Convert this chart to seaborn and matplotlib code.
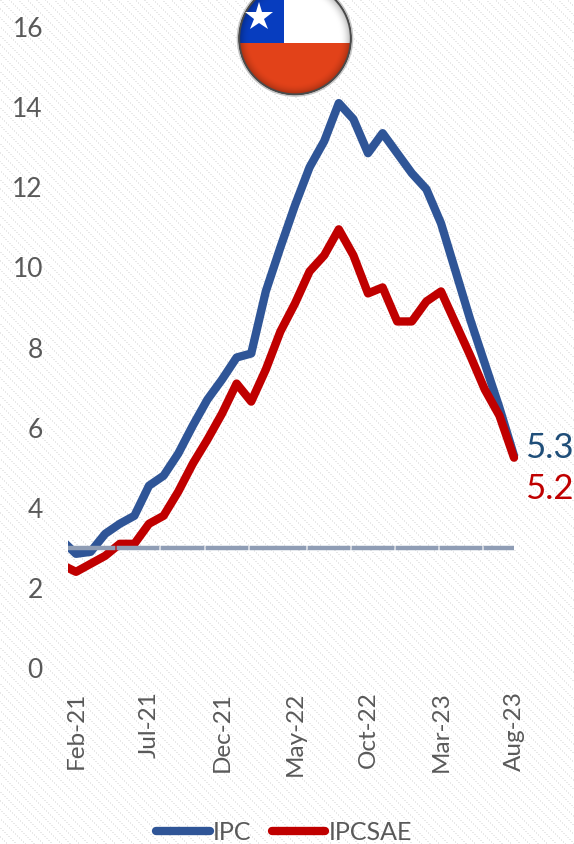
import numpy as np
import pandas as pd
import matplotlib
matplotlib.use("Agg")
import matplotlib.pyplot as plt
from matplotlib.patches import Circle
import seaborn as sns

sns.set_theme(style="white")
plt.rcParams["font.family"] = ["Lato", "DejaVu Sans"]

# Serie mensual, ene-21 queda recortado por el borde izquierdo
meses = ["Jan-21", "Feb-21", "Mar-21", "Apr-21", "May-21", "Jun-21", "Jul-21", "Aug-21", "Sep-21",
         "Oct-21", "Nov-21", "Dec-21", "Jan-22", "Feb-22", "Mar-22", "Apr-22", "May-22", "Jun-22",
         "Jul-22", "Aug-22", "Sep-22", "Oct-22", "Nov-22", "Dec-22", "Jan-23", "Feb-23", "Mar-23",
         "Apr-23", "May-23", "Jun-23", "Jul-23", "Aug-23"]
ipc = [3.2, 2.85, 2.9, 3.35, 3.6, 3.8, 4.55, 4.8, 5.35, 6.05, 6.7, 7.2, 7.75, 7.85, 9.4, 10.5,
       11.55, 12.5, 13.15, 14.1, 13.7, 12.85, 13.35, 12.85, 12.35, 11.95, 11.1, 9.9, 8.7, 7.6, 6.5, 5.3]
ipcsae = [2.58, 2.4, 2.6, 2.8, 3.1, 3.1, 3.6, 3.8, 4.4, 5.1, 5.7, 6.35, 7.1, 6.65, 7.45, 8.4,
          9.1, 9.9, 10.3, 10.95, 10.3, 9.35, 9.5, 8.65, 8.65, 9.15, 9.4, 8.6, 7.8, 6.95, 6.3, 5.25]
meta = [3.0] * 32
etiqueta_ipc = "5.3"
etiqueta_sae = "5.2"

AZUL = "#2f5597"
ROJO = "#c00000"
GRIS = "#8f9db5"
TEXTO = "#595959"

W, H = 574, 844
fig = plt.figure(figsize=(W / 100, H / 100), dpi=100)

# Fondo rayado
fondo = fig.add_axes([0, 0, 1, 1], zorder=0)
yy, xx = np.mgrid[0:H, 0:W]
trama = np.ones((H, W))
trama[((xx - yy) % 9 < 2) & ((xx + yy) % 4 < 2)] = 0.91
fondo.imshow(trama, cmap="gray", vmin=0, vmax=1, interpolation="nearest", extent=(0, W, H, 0), aspect="auto")
fondo.axis("off")

# Eje: x=76 es feb-21, 14.6 px por mes; y=668 es 0, 40.06 px por unidad
izq, der = 68, 522
arriba, abajo = 27, 668
ax = fig.add_axes([izq / W, 1 - abajo / H, (der - izq) / W, (abajo - arriba) / H], zorder=1)
ax.patch.set_alpha(0)

x = np.arange(len(meses))
df = pd.DataFrame({"x": x, "IPC": ipc, "IPCSAE": ipcsae, "Meta": meta})
sns.lineplot(data=df, x="x", y="IPC", color=AZUL, lw=6, ax=ax, label="IPC",
             solid_capstyle="round", solid_joinstyle="round")
sns.lineplot(data=df, x="x", y="IPCSAE", color=ROJO, lw=6, ax=ax, label="IPCSAE",
             solid_capstyle="round", solid_joinstyle="round")

# Tramos de la linea de meta, con cortes chicos
lw_meta = 3.2
px = 0.72 / lw_meta
tramos = [55.6, 44, 45, 44, 58, 44, 44, 44, 44, 40]
patron = []
for t in tramos:
    patron += [(t - 1.2) * px, 1.2 * px]
sns.lineplot(data=df, x="x", y="Meta", color=GRIS, lw=lw_meta, ax=ax, legend=False,
             linestyle=(0, tuple(patron)), dash_capstyle="butt")

ax.set_xlim(1 - 8 / 14.6, 1 + (der - 76) / 14.6)
ax.set_ylim(0, 16)
ax.set_xlabel("")
ax.set_ylabel("")
sns.despine(ax=ax, left=True, bottom=True)

ax.set_yticks(range(0, 17, 2))
ax.tick_params(axis="y", length=0, pad=18, labelsize=19, labelcolor=TEXTO)
ax.set_xticks(x[1::5])
ax.set_xticklabels(meses[1::5], rotation=90)
ax.tick_params(axis="x", length=0, pad=17, labelsize=17.5, labelcolor=TEXTO)

ax.text(525, 448, etiqueta_ipc, color="#1f4e79", fontsize=25, va="center", ha="left",
        transform=fondo.transData, clip_on=False)
ax.text(525, 489, etiqueta_sae, color=ROJO, fontsize=25, va="center", ha="left",
        transform=fondo.transData, clip_on=False)

leg = ax.legend(loc="center", bbox_to_anchor=(284 / W, 1 - 832 / H), bbox_transform=fig.transFigure,
                ncol=2, frameon=False, fontsize=18, labelcolor=TEXTO, handlelength=2.15,
                handletextpad=0.12, columnspacing=0.8, borderpad=0)

# Bandera con sombra en el borde
tapa = fig.add_axes([0, 0, 1, 1], zorder=2)
tapa.set_xlim(0, W)
tapa.set_ylim(H, 0)
tapa.axis("off")
cx, cy, r = 295, 38.5, 56
fy, fx = np.mgrid[0:H, 0:W] + 0.5
img = np.zeros((H, W, 4))
img[fy >= 43] = [0.89, 0.26, 0.10, 1]
img[(fy < 43) & (fx >= 284)] = [1, 1, 1, 1]
img[(fy < 43) & (fx < 284)] = [0.03, 0.24, 0.75, 1]
dist = np.hypot(fx - cx, fy - cy) / r
sombra = 1 - 0.30 * np.clip((dist - 0.80) / 0.20, 0, 1) ** 2
img[..., :3] *= sombra[..., None]
img[..., 3] = dist <= 1
tapa.imshow(img, extent=(0, W, H, 0), aspect="auto", interpolation="nearest", zorder=1)
tapa.set_xlim(0, W)
tapa.set_ylim(H, 0)
tapa.add_patch(Circle((cx, cy), r, facecolor="none", edgecolor="#4a4a4a", linewidth=1.6, zorder=2))
tapa.add_patch(Circle((cx, cy), r + 1.6, facecolor="none", edgecolor="#c4c4c4", linewidth=1.0, zorder=2))
tapa.plot([259], [17], marker="*", ms=21, color="white", mew=0, zorder=3)

fig.savefig("out.png", dpi=100)
